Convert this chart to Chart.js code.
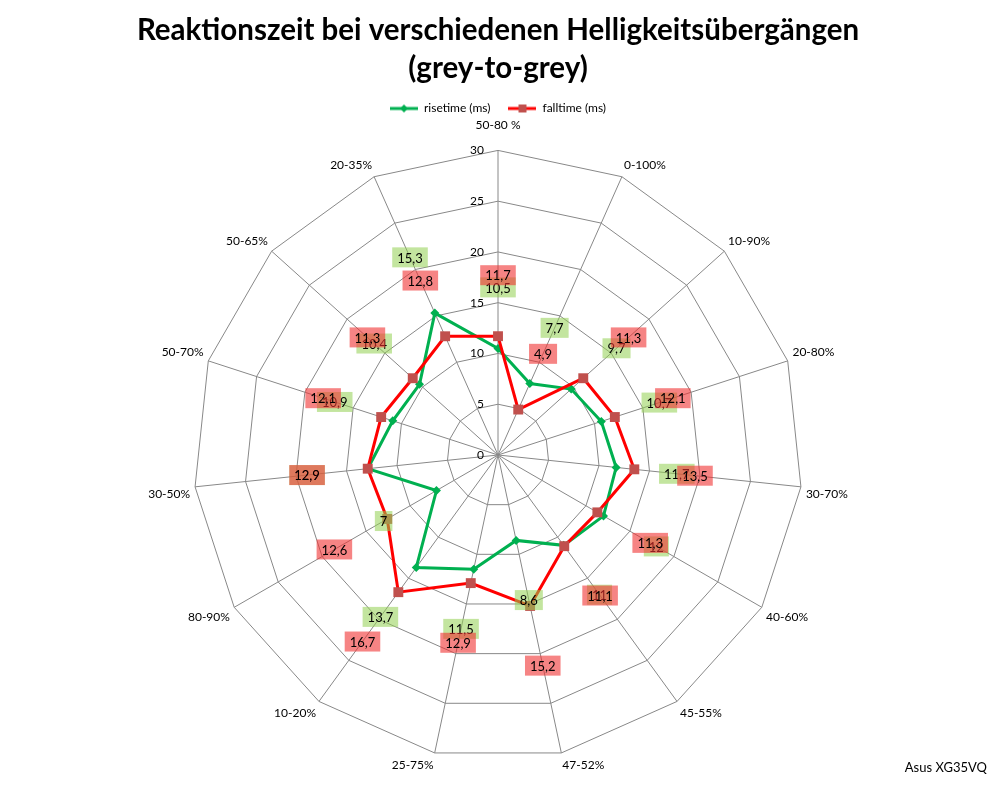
<!DOCTYPE html>
<html>
<head>
<meta charset="utf-8">
<script src="https://cdn.jsdelivr.net/npm/chart.js"></script>
<style>
    html, body { margin: 0; padding: 0; background: #fff; }
    canvas { display: block; }
</style>
</head>
<body>
<canvas id="chart" width="998" height="786"></canvas>
<script>
// Grey-to-grey transitions, clockwise from the top
const categories = ["50-80 %", "0-100%", "10-90%", "20-80%", "30-70%", "40-60%", "45-55%",
    "47-52%", "25-75%", "10-20%", "80-90%", "30-50%", "50-70%", "50-65%", "20-35%"];
const risetime = [10.5, 7.7, 9.7, 10.7, 11.7, 12, 11, 8.6, 11.5, 13.7, 7, 12.9, 10.9, 10.4, 15.3];
const falltime = [11.7, 4.9, 11.3, 12.1, 13.5, 11.3, 11.1, 15.2, 12.9, 16.7, 12.6, 12.9, 12.1, 11.3, 12.8];
const seriesNames = ["risetime (ms)", "falltime (ms)"];
const titleLines = ["Reaktionszeit bei verschiedenen Helligkeitsübergängen", "(grey-to-grey)"];
const sourceText = "Asus XG35VQ";
const axisMax = 30;
const axisStep = 5;

const GREEN = "#00b050";
const RED = "#ff0000";
const RED_MARKER = "#c0504d";
const FONT = "Lato";

function legendSymbol(lineColor, markerColor, shape) {
    const c = document.createElement("canvas");
    c.width = 28;
    c.height = 10;
    const g = c.getContext("2d");
    g.strokeStyle = lineColor;
    g.lineWidth = 3;
    g.beginPath();
    g.moveTo(0, 5);
    g.lineTo(28, 5);
    g.stroke();
    g.fillStyle = markerColor;
    g.beginPath();
    if (shape === "diamond") {
        g.moveTo(14, 1); g.lineTo(18, 5); g.lineTo(14, 9); g.lineTo(10, 5);
    } else {
        g.rect(10, 1, 8, 8);
    }
    g.closePath();
    g.fill();
    return c;
}

const symbols = [legendSymbol(GREEN, GREEN, "diamond"), legendSymbol(RED, RED_MARKER, "square")];

function fmt(v) {
    return String(v).replace(".", ",");
}

// value boxes, tick numbers and the source note
const extrasPlugin = {
    id: "extras",
    beforeDraw(chart) {
        // legend box is kept short for layout; let it draw its full row
        if (chart.legend) chart.legend.bottom = chart.legend.top + 40;
    },
    afterDatasetsDraw(chart) {
        const scale = chart.scales.r;
        const ctx = chart.ctx;
        ctx.save();

        ctx.font = "12px " + FONT;
        ctx.fillStyle = "#000";
        ctx.textAlign = "right";
        ctx.textBaseline = "middle";
        scale.ticks.forEach(t => {
            const y = scale.yCenter - scale.getDistanceFromCenterForValue(t.value);
            ctx.fillText(String(t.value), scale.xCenter - 14, y);
        });

        const boxColors = ["rgba(146, 208, 80, 0.55)", "rgba(240, 50, 50, 0.6)"];
        ctx.font = "13px " + FONT;
        ctx.textAlign = "center";
        chart.data.datasets.forEach((ds, di) => {
            ds.data.forEach((v, i) => {
                const d = scale.getDistanceFromCenterForValue(v) + 61;
                const p = scale.getPointPosition(i, d);
                const text = fmt(v);
                const w = ctx.measureText(text).width + 10;
                const h = 20;
                ctx.fillStyle = boxColors[di];
                ctx.fillRect(p.x - w / 2, p.y - h / 2, w, h);
                ctx.fillStyle = "#000";
                ctx.fillText(text, p.x, p.y + 1);
            });
        });

        ctx.font = "13px " + FONT;
        ctx.textAlign = "right";
        ctx.fillText(sourceText, 987, 768);
        ctx.restore();
    }
};

new Chart(document.getElementById("chart"), {
    type: "radar",
    data: {
        labels: categories,
        datasets: [
            {
                label: seriesNames[0],
                data: risetime,
                borderColor: GREEN,
                backgroundColor: GREEN,
                borderWidth: 3,
                fill: false,
                pointStyle: "rectRot",
                pointRadius: 4.5,
                pointBorderWidth: 0,
                pointBackgroundColor: GREEN,
                order: 1
            },
            {
                label: seriesNames[1],
                data: falltime,
                borderColor: RED,
                backgroundColor: RED,
                borderWidth: 3,
                fill: false,
                pointStyle: "rect",
                pointRadius: 7,
                pointBorderWidth: 0,
                pointBackgroundColor: RED_MARKER,
                order: 0
            }
        ]
    },
    options: {
        responsive: false,
        animation: false,
        layout: { padding: { top: 0, left: 0, right: 2, bottom: 4 } },
        elements: { line: { tension: 0 } },
        scales: {
            r: {
                min: 0,
                max: axisMax,
                beginAtZero: true,
                ticks: { stepSize: axisStep, display: false },
                grid: { color: "#888", lineWidth: 1 },
                angleLines: { color: "#888", lineWidth: 1 },
                pointLabels: {
                    color: "#000",
                    font: { family: FONT, size: 12 },
                    padding: ctx => (ctx.index === 0 ? 18 : 5)
                }
            }
        },
        plugins: {
            title: {
                display: true,
                text: titleLines,
                color: "#000",
                font: { family: FONT, size: 29.5, weight: "bold", lineHeight: "38px" },
                padding: { top: 11, bottom: -2.5 }
            },
            legend: {
                display: true,
                position: "top",
                maxHeight: 23.5,
                labels: {
                    color: "#000",
                    font: { family: FONT, size: 12 },
                    usePointStyle: true,
                    pointStyleWidth: 28,
                    padding: 18,
                    generateLabels: () => seriesNames.map((name, i) => ({
                        text: name,
                        pointStyle: symbols[i],
                        fillStyle: "transparent",
                        strokeStyle: "transparent",
                        lineWidth: 0,
                        fontColor: "#000",
                        hidden: false,
                        datasetIndex: i
                    }))
                }
            },
            tooltip: { enabled: false }
        }
    },
    plugins: [extrasPlugin]
});
</script>
</body>
</html>
